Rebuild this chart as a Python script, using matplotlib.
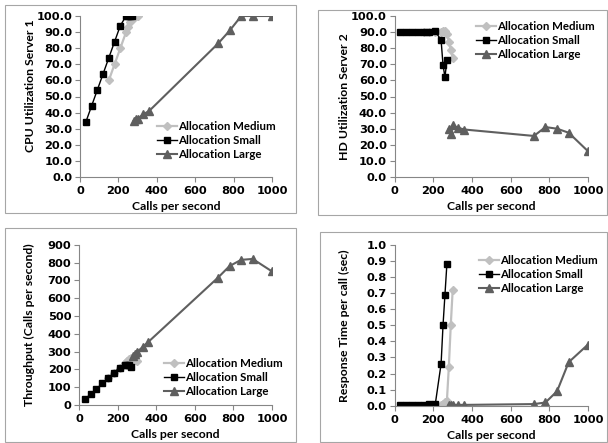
import matplotlib
matplotlib.use('Agg')
import matplotlib.pyplot as plt
from matplotlib.patches import Rectangle

plt.rcParams['font.family'] = ['Lato', 'DejaVu Sans']
plt.rcParams['font.weight'] = 'bold'
plt.rcParams['font.size'] = 8

#--data
x_small = [30, 60, 90, 120, 150, 180, 210, 240, 250, 260, 270]
x_medium = [150, 180, 210, 240, 250, 260, 270, 280, 290, 300]
x_large = [280, 290, 300, 330, 360, 720, 780, 840, 900, 1000]

cpu_small = [34, 44, 54, 64, 74, 84, 94, 100, 100, 100, 100]
cpu_medium = [60, 70, 80, 90, 93, 96, 98, 99, 100, 100]
cpu_large = [35, 36, 36, 39, 41, 83, 91, 100, 100, 100]

hd_small = [90, 90, 90, 90, 90, 90, 90.5, 85, 69.5, 62, 72.5]
hd_medium = [90, 90, 90, 90, 90.5, 90.5, 89, 84, 79, 74]
hd_large = [30, 27, 32, 30.5, 29.5, 25.5, 31, 30, 27.5, 16]

tp_small = [33, 60, 88, 122, 150, 180, 210, 222, 225, 222, 215]
tp_medium = [150, 180, 210, 238, 248, 257, 262, 260, 255, 247]
tp_large = [275, 285, 298, 325, 355, 715, 780, 815, 820, 750]

rt_small = [0.002, 0.002, 0.002, 0.002, 0.002, 0.01, 0.01, 0.26, 0.5, 0.69, 0.88]
rt_medium = [0.0, 0.0, 0.0, 0.005, 0.01, 0.02, 0.03, 0.24, 0.5, 0.72]
rt_large = [0.005, 0.005, 0.005, 0.005, 0.005, 0.01, 0.02, 0.09, 0.27, 0.38]

c_med = '#c0c0c0'
c_small = '#000000'
c_large = '#5f5f5f'

W, H = 608, 443
fig = plt.figure(figsize=(W/100, H/100), dpi=100)

#--chart area borders (px: x0, y0, x1, y1 from top-left)
for bx in [(5, 5, 296, 213), (318, 10, 607, 215), (5, 228, 296, 442), (320, 232, 607, 442)]:
    fig.patches.append(Rectangle((bx[0]/W, 1-bx[3]/H), (bx[2]-bx[0])/W, (bx[3]-bx[1])/H,
                                 transform=fig.transFigure, fill=False, edgecolor='#a6a6a6', lw=0.8))

#--plot areas in px: left, right, top, bottom
areas = [(80, 272, 16, 177), (394.7, 588, 16, 177), (79, 272, 244.7, 405), (394.7, 588, 244.7, 405.7)]
#--legend anchor in px: handle left, first row y ; ylabel centre (axes fraction)
leg_px = [(157, 128), (476, 28), (164, 365), (479, 262)]
ylab_y = [0.57, 0.5, 0.5, 0.5]

panels = [
    (cpu_medium, cpu_small, cpu_large, 'CPU Utilization Server 1', (0, 100), 10, '%.1f'),
    (hd_medium, hd_small, hd_large, 'HD Utilization Server 2', (0, 100), 10, '%.1f'),
    (tp_medium, tp_small, tp_large, 'Throughput (Calls per second)', (0, 900), 100, '%d'),
    (rt_medium, rt_small, rt_large, 'Response Time per call (sec)', (0, 1.0), 0.1, '%.1f'),
]

tickfont = {'family': 'DejaVu Sans', 'weight': 'bold', 'size': 8.2}

for (l, r, t, b), (lx, ly), yly, (ym, ys, yl, ylab, ylim, step, fmt) in zip(areas, leg_px, ylab_y, panels):
    ax = fig.add_axes([l/W, 1-b/H, (r-l)/W, (b-t)/H])
    ax.plot(x_medium, ym, color=c_med, marker='D', ms=4.5, lw=1.6, label='Allocation Medium')
    ax.plot(x_small, ys, color=c_small, marker='s', ms=5, lw=1.0, label='Allocation Small')
    ax.plot(x_large, yl, color=c_large, marker='^', ms=6, lw=1.5, label='Allocation Large')
    ax.set_xlim(0, 1000)
    ax.set_ylim(*ylim)
    xt = list(range(0, 1001, 200))
    ax.set_xticks(xt)
    ax.set_xticklabels([str(v) for v in xt], fontdict=tickfont)
    n = int(round((ylim[1]-ylim[0])/step))
    yt = [ylim[0] + i*step for i in range(n+1)]
    ax.set_yticks(yt)
    ax.set_yticklabels([fmt % v for v in yt], fontdict=tickfont)
    for s in ['top', 'right']:
        ax.spines[s].set_visible(False)
    for s in ['left', 'bottom']:
        ax.spines[s].set_color('#868686')
        ax.spines[s].set_linewidth(0.8)
    ax.tick_params(colors='#868686', labelcolor='black', length=3.5, width=0.8)
    ax.tick_params(axis='x', pad=3)
    ax.tick_params(axis='y', pad=2)
    ax.set_xlabel('Calls per second', fontweight='bold', fontsize=8.8, va='center')
    ax.xaxis.set_label_coords(0.5, -30/(b-t))
    ax.set_ylabel(ylab, fontweight='bold', fontsize=8.8, va='center')
    ax.yaxis.set_label_coords(-50/(r-l), yly)
    ax.patch.set_alpha(0)
    ax.legend(loc='upper left', bbox_to_anchor=(lx/W, 1-(ly-7)/H), bbox_transform=fig.transFigure,
              frameon=False, handlelength=1.7, handletextpad=0.15, labelspacing=0.27,
              borderaxespad=0, borderpad=0, prop={'weight': 'bold', 'size': 8.3})

fig.savefig('out.png', dpi=100)
